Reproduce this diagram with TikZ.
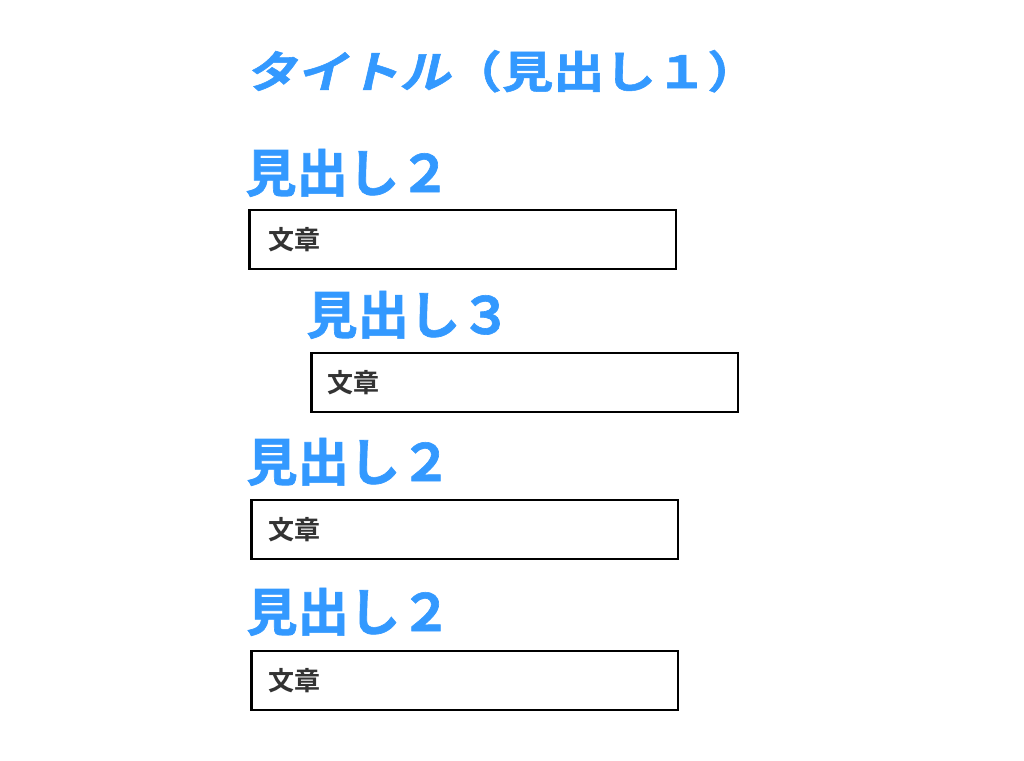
\documentclass[tikz,border=0pt]{standalone}
\usepackage{fontspec}
\newfontfamily\jpbold{Noto Sans CJK JP Bold}
\newfontfamily\jphead[FakeBold=1.2]{Noto Sans CJK JP Bold}
\newfontfamily\jpslant[FakeSlant=0.2,FakeBold=1.2]{Noto Sans CJK JP Bold}
\definecolor{headblue}{RGB}{51,153,255}
\definecolor{bodygray}{RGB}{51,51,51}
\tikzset{
  headtxt/.style={anchor=base west, inner sep=0pt, text=headblue, font=\jphead\fontsize{38.5}{38.5}\selectfont},
  bodybox/.style={draw=black, line width=1.9pt, fill=white, minimum width=320pt, minimum height=44.5pt, inner sep=0pt, anchor=north west},
  bodytxt/.style={anchor=west, inner sep=0pt, text=bodygray, font=\jpbold\fontsize{19.5}{19.5}\selectfont}
}
\begin{document}
\begin{tikzpicture}[x=0.75pt,y=-0.75pt]
\useasboundingbox[fill=white] (0,0) rectangle (1024,760);
\node[headtxt] (title) at (245,88) {\scalebox{1}[0.86]{{\jpslant タイトル}（見出し１）}};
\node[headtxt] (h2a) at (245,192) {見出し２};
\node[bodybox] (b1) at (248,208.5) {};
\node[bodytxt] (t1) at ([xshift=15pt]b1.west) {文章};
\node[headtxt] (h3) at (306,334) {見出し３};
\node[bodybox] (b2) at (310,351.5) {};
\node[bodytxt] (t2) at ([xshift=13pt]b2.west) {文章};
\node[headtxt] (h2b) at (246,481) {見出し２};
\node[bodybox] (b3) at (250,498.5) {};
\node[bodytxt] (t3) at ([xshift=13.5pt]b3.west) {文章};
\node[headtxt] (h2c) at (246,631) {見出し２};
\node[bodybox] (b4) at (250,649.5) {};
\node[bodytxt] (t4) at ([xshift=13.5pt]b4.west) {文章};
\end{tikzpicture}
\end{document}
